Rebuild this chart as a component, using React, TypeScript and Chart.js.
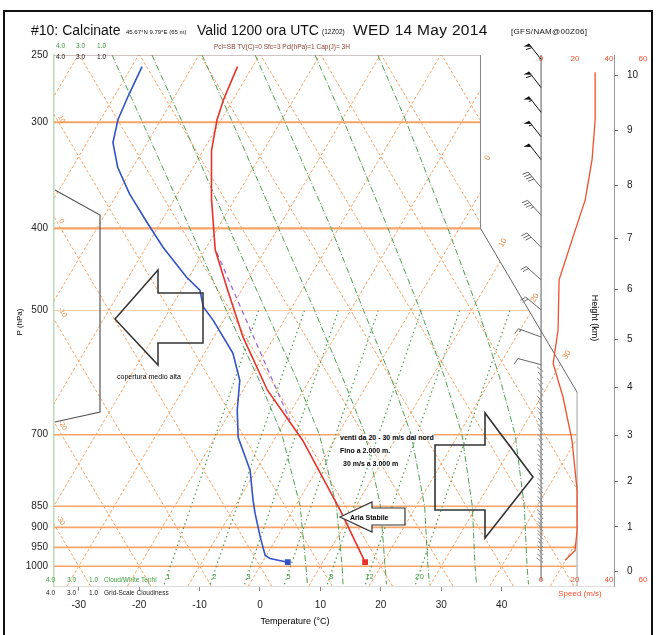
import React, { useEffect, useRef } from 'react';
import { Chart, registerables } from 'chart.js';
Chart.register(...registerables);

const FONT = '"Liberation Sans Narrow","Arial Narrow","Liberation Sans",Arial,sans-serif';
const SKEW = 36; // deg C per ln(p) unit of skew
const PTOP = 250;
const PBOT = 1055;
const XMIN = -34.1;
const XMAX = 58.6;
const SMIN = -286.5;
const SMAX = 42.9;

// axes
const pressureTicks = [250, 300, 400, 500, 700, 850, 900, 950, 1000];
const tempTicks = [-30, -20, -10, 0, 10, 20, 30, 40];
const heightKm = ['0', '1', '2', '3', '4', '5', '6', '7', '8', '9', '10'];
const heightP = [1013, 899, 795, 701, 616, 540, 472, 411, 356, 307, 264];
const speedTicks = [0, 20, 40, 60];

// background grid
const isotherms = [-80, -70, -60, -50, -40, -30, -20, -10, 0, 10, 20, 30, 40, 50];
const dryAdiabats = [-30, -20, -10, 0, 10, 20, 30, 40, 50, 60, 70, 80, 90, 100];
const isobars = [300, 400, 500, 700, 850, 900, 950, 1000];
const isobarWidth = [2.2, 2.2, 1, 1.4, 1.6, 1.6, 1.6, 1.6];
const moistLevels = [250, 300, 400, 500, 600, 700, 850, 1000, 1050];
const moistA = [-74.4, -62.8, -44.6, -30.5, -18.7, -9.2, 0.8, 7.6, 9.6];
const moistB = [-67.8, -56.2, -38.1, -24.0, -12.4, -3.0, 6.8, 13.6, 15.5];
const moistC = [-59.5, -47.9, -29.9, -15.9, -4.7, 4.6, 14.1, 20.7, 22.7];
const moistD = [-50.7, -39.2, -21.2, -7.8, 3.3, 12.2, 21.4, 27.8, 29.8];
const moistE = [-40.8, -29.4, -11.8, 1.6, 12.2, 20.6, 29.3, 35.6, 37.6];
const moistF = [-30.4, -19.1, -1.9, 11.2, 21.3, 29.4, 37.9, 44.2, 46.2];
const mixLabels = ['1', '2', '3', '5', '8', '12', '20'];
const mixBottomT = [-14.1, -6.5, -0.8, 5.8, 12.9, 19.2, 27.5]; // at 1050 hPa
const mixTopT = [-25.2, -17.6, -12.0, -5.4, 1.7, 8.1, 16.4]; // at 500 hPa

// diagram boundary
const bndX = [XMIN, 36.5, 36.5, 52.5, 52.5, XMIN];
const bndP = [PTOP, PTOP, 400, 624, PBOT, PBOT];

// sounding
const tempP = [989, 859, 711, 620, 537, 473, 424, 371, 324, 298, 282, 258];
const tempC = [17.0, 7.8, -5.2, -16.0, -25.2, -32.3, -38.3, -43.7, -48.6, -50.7, -51.6, -52.5];
const dewP = [989, 979, 971, 924, 866, 836, 771, 705, 655, 604, 561, 513, 495, 473, 457, 421, 394, 364, 339, 317, 298, 280, 258];
const dewC = [4.2, 0.9, -0.2, -2.8, -6.0, -7.6, -11.0, -16.2, -19.0, -21.5, -25.3, -31.8, -34.7, -36.9, -40.3, -47.2, -52.2, -58.0, -62.5, -65.7, -67.1, -67.7, -68.3];
const parcelP = [427, 673];
const parcelC = [-37.8, -9.3];

// wind
const windP = [262, 298, 332, 370, 413, 460, 527, 577, 632, 711, 814, 907, 958, 984];
const windS = [31.8, 31.8, 30, 26, 18.2, 10.6, 10, 7.1, 12.9, 18.2, 21.2, 21.2, 20, 14.1];
const barbP = [253, 273, 292, 312, 332, 358, 386, 421, 460, 499, 537, 579];
const barbS = [30, 30, 29, 28, 27, 22, 18, 15, 12, 10, 8, 7];
const barbDir = [322, 322, 322, 322, 322, 320, 318, 315, 312, 310, 290, 285];
const lowBarbP = [590, 600, 610, 620, 630, 640, 650, 660, 670, 680, 690, 700, 710, 720, 730, 740, 750, 760, 770, 780, 790, 800, 810, 820, 830, 840, 850, 860, 870, 880, 890, 900, 910, 920, 930, 940, 950, 960, 970, 980, 990];
const lowBarbDir = [310, 320, 315, 325, 318, 312, 322, 316, 328, 320, 314, 322, 318, 326, 320, 312, 318, 324, 316, 320, 328, 318, 312, 320, 326, 316, 322, 318, 312, 324, 318, 320, 326, 314, 320, 318, 324, 316, 320, 310, 305];

const lp = (p: number) => Math.log(1000 / p);
const skewX = (t: number, p: number) => t + SKEW * lp(p);
const adiabX = (th: number, p: number) => th - SKEW * lp(p);

const ORANGE = 'rgba(245,140,60,0.8)';
const ORANGE_SOLID = '#f6a468';
const GREEN = '#4f9f4f';

function buildDatasets() {
  const base = { showLine: true, pointRadius: 0, fill: false, tension: 0, xAxisID: 'x', yAxisID: 'y' };
  const ds: any[] = [];
  isotherms.forEach((t) => ds.push({ ...base, order: 20, polyClip: true, borderColor: ORANGE, borderWidth: 1, borderDash: [3, 2],
    data: [{ x: skewX(t, PBOT), y: PBOT }, { x: skewX(t, PTOP), y: PTOP }] }));
  dryAdiabats.forEach((th) => ds.push({ ...base, order: 20, polyClip: true, borderColor: ORANGE, borderWidth: 1, borderDash: [3, 2],
    data: [{ x: adiabX(th, PBOT), y: PBOT }, { x: adiabX(th, PTOP), y: PTOP }] }));
  isobars.forEach((p, i) => ds.push({ ...base, order: 19, polyClip: true, borderColor: i === 2 ? '#f9cba8' : ORANGE_SOLID, borderWidth: isobarWidth[i],
    data: [{ x: XMIN - 5, y: p }, { x: XMAX + 5, y: p }] }));
  [moistA, moistB, moistC, moistD, moistE, moistF].forEach((arr) => ds.push({ ...base, order: 18, polyClip: true, borderColor: GREEN, borderWidth: 1, borderDash: [6, 2, 1, 2],
    data: arr.map((t, i) => ({ x: skewX(t, moistLevels[i]), y: moistLevels[i] })) }));
  mixBottomT.forEach((t, i) => ds.push({ ...base, order: 18, polyClip: true, borderColor: GREEN, borderWidth: 1.2, borderDash: [1.5, 3],
    data: [{ x: skewX(t, 1050), y: 1050 }, { x: skewX(mixTopT[i], 500), y: 500 }] }));
  // boundary lines
  ds.push({ ...base, order: 5, borderColor: '#a08c8c', borderWidth: 1, data: [{ x: XMIN, y: PTOP }, { x: bndX[1], y: PTOP }] });
  ds.push({ ...base, order: 5, borderColor: '#888', borderWidth: 1, data: [{ x: bndX[2], y: PTOP }, { x: bndX[2], y: bndP[2] }] });
  ds.push({ ...base, order: 5, borderColor: '#666', borderWidth: 1, data: [{ x: bndX[2], y: bndP[2] }, { x: bndX[3], y: bndP[3] }] });
  ds.push({ ...base, order: 5, borderColor: '#c8c8c8', borderWidth: 1, data: [{ x: bndX[3], y: bndP[3] }, { x: bndX[4], y: bndP[4] }] });
  // speed zero line
  ds.push({ ...base, order: 5, xAxisID: 'xs', borderColor: '#777', borderWidth: 1.2, data: [{ x: 0, y: PTOP }, { x: 0, y: 1040 }] });
  // sounding
  ds.push({ ...base, order: 2, borderColor: '#a06ad8', borderWidth: 1.3, borderDash: [5, 4],
    data: parcelP.map((p, i) => ({ x: skewX(parcelC[i], p), y: p })) });
  ds.push({ ...base, order: 1, borderColor: '#e8322a', borderWidth: 1.6, pointStyle: 'rect', pointBackgroundColor: '#e8322a', pointBorderColor: '#e8322a',
    pointRadius: (c: any) => (c.dataIndex === 0 ? 3 : 0),
    data: tempP.map((p, i) => ({ x: skewX(tempC[i], p), y: p })) });
  ds.push({ ...base, order: 1, borderColor: '#3152c8', borderWidth: 1.6, pointStyle: 'rect', pointBackgroundColor: '#3152c8', pointBorderColor: '#3152c8',
    pointRadius: (c: any) => (c.dataIndex === 0 ? 3 : 0),
    data: dewP.map((p, i) => ({ x: skewX(dewC[i], p), y: p })) });
  ds.push({ ...base, order: 1, xAxisID: 'xs', borderColor: '#f0502c', borderWidth: 1.3,
    data: windP.map((p, i) => ({ x: windS[i], y: p })) });
  return ds;
}

const polyClip = {
  id: 'polyClip',
  beforeDatasetDraw(chart: any, args: any) {
    const d = chart.data.datasets[args.index];
    if (!d.polyClip) return;
    const ctx = chart.ctx; const xs = chart.scales.x; const ys = chart.scales.y;
    ctx.save();
    ctx.beginPath();
    bndX.forEach((bx, i) => {
      const px = xs.getPixelForValue(bx); const py = ys.getPixelForValue(bndP[i]);
      if (i === 0) ctx.moveTo(px, py); else ctx.lineTo(px, py);
    });
    ctx.closePath();
    ctx.clip();
  },
  afterDatasetDraw(chart: any, args: any) {
    const d = chart.data.datasets[args.index];
    if (d.polyClip) chart.ctx.restore();
  },
};

function drawBarb(ctx: any, bx: number, by: number, speed: number, dir: number, len: number, color: string) {
  const r = (dir * Math.PI) / 180;
  const ux = Math.sin(r); const uy = -Math.cos(r);
  const tx = bx + ux * len; const ty = by + uy * len;
  const px = uy; const py = -ux;
  ctx.strokeStyle = color; ctx.fillStyle = color; ctx.lineWidth = 1;
  ctx.beginPath(); ctx.moveTo(bx, by); ctx.lineTo(tx, ty); ctx.stroke();
  let s = speed; let pos = 0;
  while (s >= 25) {
    const ax = tx - ux * pos; const ay = ty - uy * pos;
    ctx.beginPath(); ctx.moveTo(ax, ay);
    ctx.lineTo(ax + px * 6 + ux * 1, ay + py * 6 + uy * 1);
    ctx.lineTo(ax - ux * 4, ay - uy * 4);
    ctx.closePath(); ctx.fill();
    s -= 25; pos += 5;
  }
  while (s >= 5) {
    const ax = tx - ux * pos; const ay = ty - uy * pos;
    ctx.beginPath(); ctx.moveTo(ax, ay); ctx.lineTo(ax + px * 6 + ux * 2, ay + py * 6 + uy * 2); ctx.stroke();
    s -= 5; pos += 3;
  }
  if (s >= 2.5) {
    const ax = tx - ux * pos; const ay = ty - uy * pos;
    ctx.beginPath(); ctx.moveTo(ax, ay); ctx.lineTo(ax + px * 3 + ux, ay + py * 3 + uy); ctx.stroke();
  }
}

const barbPlugin = {
  id: 'barbs',
  afterDatasetsDraw(chart: any) {
    const ctx = chart.ctx; const xs = chart.scales.xs; const ys = chart.scales.y;
    const bx = xs.getPixelForValue(0);
    ctx.save();
    lowBarbP.forEach((p, i) => drawBarb(ctx, bx + 2, ys.getPixelForValue(p), 0, lowBarbDir[i], 8, '#8a8a8a'));
    barbP.forEach((p, i) => {
      const col = barbS[i] >= 25 ? '#111' : '#666';
      const len = i >= 10 ? 24 : 20;
      drawBarb(ctx, bx, ys.getPixelForValue(p), barbS[i], barbDir[i], len, col);
    });
    // speed axis labels
    ctx.fillStyle = '#f0502c';
    ctx.font = '8px ' + FONT;
    ctx.textAlign = 'center'; ctx.textBaseline = 'middle';
    speedTicks.forEach((v) => {
      const x = xs.getPixelForValue(v);
      ctx.fillText(String(v), x, chart.chartArea.top + 4);
      ctx.fillText(String(v), x, chart.chartArea.bottom - 6);
    });
    // mixing ratio labels
    const xT = chart.scales.x;
    ctx.fillStyle = '#3f9f3f';
    mixLabels.forEach((lab, i) => {
      ctx.fillText(lab, xT.getPixelForValue(skewX(mixBottomT[i], 1050)) + 4, chart.chartArea.bottom - 9);
    });
    ctx.restore();
  },
};

function Txt(props: any) {
  const { x, y, s, c = '#000', w = 400, rot = 0, bg, children } = props;
  const style: any = {
    position: 'absolute', left: x, top: y, fontSize: s, color: c, fontWeight: w, lineHeight: 1,
    whiteSpace: 'nowrap', fontFamily: FONT, transform: `translate(-50%,-50%) rotate(${rot}deg)`,
  };
  if (bg) style.background = bg;
  return <div style={style}>{children}</div>;
}
function LTxt(props: any) {
  const { x, y, s, c = '#000', w = 400, bg, ls, children } = props;
  const style: any = {
    position: 'absolute', left: x, top: y - s / 2, fontSize: s, color: c, fontWeight: w, lineHeight: 1,
    whiteSpace: 'nowrap', fontFamily: FONT,
  };
  if (bg) style.background = bg;
  if (ls) style.letterSpacing = ls;
  return <div style={style}>{children}</div>;
}

export default function App() {
  const ref = useRef<HTMLCanvasElement>(null);
  useEffect(() => {
    const canvas = ref.current!;
    const tickFont = { family: FONT, size: 10 };
    const chart = new Chart(canvas, {
      type: 'scatter',
      data: { datasets: buildDatasets() },
      options: {
        animation: false,
        responsive: false,
        devicePixelRatio: 1,
        layout: { padding: { top: 55, left: 0, right: 0, bottom: 0 } },
        plugins: { legend: { display: false }, tooltip: { enabled: false } },
        scales: {
          x: {
            type: 'linear', position: 'bottom', min: XMIN, max: XMAX,
            afterBuildTicks: (s: any) => { s.ticks = tempTicks.map((v) => ({ value: v })); },
            afterFit: (s: any) => { s.height = 49; },
            grid: { drawOnChartArea: false, drawTicks: true, tickLength: 5, color: '#888' },
            border: { display: true, color: '#ddd' },
            ticks: { font: tickFont, color: '#222', padding: 8, maxRotation: 0, autoSkip: false, callback: (v: any) => String(v) },
          },
          xs: { type: 'linear', display: false, min: SMIN, max: SMAX },
          y: {
            type: 'logarithmic', position: 'left', reverse: true, min: PTOP, max: PBOT,
            afterBuildTicks: (s: any) => { s.ticks = pressureTicks.map((v) => ({ value: v })); },
            afterFit: (s: any) => { s.width = 54; },
            grid: { drawOnChartArea: false, drawTicks: false },
            border: { display: true, color: '#b9dcb9', width: 1.5 },
            ticks: { font: tickFont, color: '#222', padding: 6, autoSkip: false, callback: (v: any) => String(v) },
          },
          yh: {
            type: 'logarithmic', position: 'right', reverse: true, min: PTOP, max: PBOT,
            afterBuildTicks: (s: any) => { s.ticks = heightP.map((v) => ({ value: v })); },
            afterFit: (s: any) => { s.width = 42; },
            grid: { drawOnChartArea: false, drawTicks: true, tickLength: 4, color: '#666' },
            border: { display: true, color: '#999' },
            ticks: { font: tickFont, color: '#222', padding: 9, autoSkip: false,
              callback: (v: any) => { const k = heightP.indexOf(v); return k >= 0 ? heightKm[k] : ''; } },
          },
        },
      } as any,
      plugins: [polyClip, barbPlugin],
    });
    return () => chart.destroy();
  }, []);

  const orange = '#f08a40';
  const green = '#3a9a3a';
  return (
    <div style={{ position: 'absolute', left: 0, top: 0, width: 656, height: 635, background: '#fff', overflow: 'hidden', fontFamily: FONT }}>
      <canvas ref={ref} width={656} height={635} style={{ position: 'absolute', left: 0, top: 0, width: 656, height: 635 }} />
      <div style={{ position: 'absolute', left: 3, top: 10, width: 650, height: 640, border: '2px solid #111', boxSizing: 'border-box', pointerEvents: 'none' }} />
      {/* title */}
      <LTxt x={31} y={30} s={14} c="#111">#10: Calcinate</LTxt>
      <LTxt x={126} y={32} s={6} c="#111">45.67°N 9.79°E (65 m)</LTxt>
      <LTxt x={197} y={30} s={14} c="#111">Valid 1200 ora UTC</LTxt>
      <LTxt x={322} y={32} s={6.5} c="#111">(12Z02)</LTxt>
      <LTxt x={353} y={30} s={15.5} c="#111" ls="0.3px">WED 14 May 2014</LTxt>
      <LTxt x={511} y={32} s={8} c="#111" ls="0.3px">[GFS/NAM@00Z06]</LTxt>
      <LTxt x={214} y={47} s={6.5} c="#8b3a2a">Pcl=SB TV(C)=0 Sfc=3 Pcl(hPa)=1 Cap(J)= 3H</LTxt>
      {/* top-left cloud labels */}
      <LTxt x={56} y={46} s={6.5} c={green}>4.0</LTxt>
      <LTxt x={76} y={46} s={6.5} c={green}>3.0</LTxt>
      <LTxt x={97} y={46} s={6.5} c={green}>1.0</LTxt>
      <LTxt x={56} y={57} s={6.5} c="#222">4.0</LTxt>
      <LTxt x={76} y={57} s={6.5} c="#222">3.0</LTxt>
      <LTxt x={97} y={57} s={6.5} c="#222">1.0</LTxt>
      {/* bottom cloud labels */}
      <LTxt x={46} y={580} s={6.5} c={green}>4.0</LTxt>
      <LTxt x={67} y={580} s={6.5} c={green}>3.0</LTxt>
      <LTxt x={89} y={580} s={6.5} c={green}>1.0</LTxt>
      <LTxt x={104} y={580} s={6.5} c={green}>Cloud/White Tephi</LTxt>
      <LTxt x={46} y={593} s={6.5} c="#222">4.0</LTxt>
      <LTxt x={67} y={593} s={6.5} c="#222">3.0</LTxt>
      <LTxt x={89} y={593} s={6.5} c="#222">1.0</LTxt>
      <LTxt x={104} y={593} s={6.5} c="#222">Grid-Scale Cloudiness</LTxt>
      {/* axis titles */}
      <Txt x={20} y={322} s={8} rot={-90}>P (hPa)</Txt>
      <Txt x={295} y={621} s={9}>Temperature (°C)</Txt>
      <Txt x={594} y={318} s={9} rot={90}>Height (km)</Txt>
      <Txt x={580} y={594} s={8} c="#f0502c">Speed (m/s)</Txt>
      {/* grid labels */}
      <Txt x={62} y={119} s={7} c={orange} rot={60}>10</Txt>
      <Txt x={62} y={221} s={7} c={orange} rot={60}>0</Txt>
      <Txt x={63} y={312} s={7} c={orange} rot={60}>-10</Txt>
      <Txt x={63} y={425} s={7} c={orange} rot={60}>-20</Txt>
      <Txt x={61} y={520} s={7} c={orange} rot={60}>-30</Txt>
      <Txt x={488} y={158} s={8} c={orange} rot={-60}>0</Txt>
      <Txt x={503} y={243} s={8} c={orange} rot={-60}>10</Txt>
      <Txt x={535} y={298} s={8} c={orange} rot={-60}>20</Txt>
      <Txt x={567} y={355} s={8} c={orange} rot={-60}>30</Txt>
      {/* annotations */}
      <svg width={656} height={635} style={{ position: 'absolute', left: 0, top: 0, pointerEvents: 'none' }}>
        <polyline points="55,190 100,215 100,412 55,422" fill="none" stroke="#555" strokeWidth={1.2} />
        <polygon points="115,319 158,270 158,293 203,293 203,343 158,343 158,365" fill="none" stroke="#333" strokeWidth={1.5} />
        <polygon points="435,445 485,445 485,413 533,477 485,538 485,510 435,510" fill="none" stroke="#333" strokeWidth={1.6} />
        <polygon points="340,517 372,502 372,508 405,508 405,525 372,525 372,532" fill="#fff" stroke="#333" strokeWidth={1.2} />
      </svg>
      <LTxt x={117} y={376} s={7}>copertura medio alta</LTxt>
      <LTxt x={340} y={437} s={7} w={700} bg="#fff">venti da 20 - 30 m/s dal nord</LTxt>
      <LTxt x={340} y={450} s={7} w={700} bg="#fff">Fino a 2.000 m.</LTxt>
      <LTxt x={343} y={463} s={7} w={700} bg="#fff">30 m/s a 3.000 m</LTxt>
      <LTxt x={350} y={517} s={7} w={700}>Aria Stabile</LTxt>
    </div>
  );
}
